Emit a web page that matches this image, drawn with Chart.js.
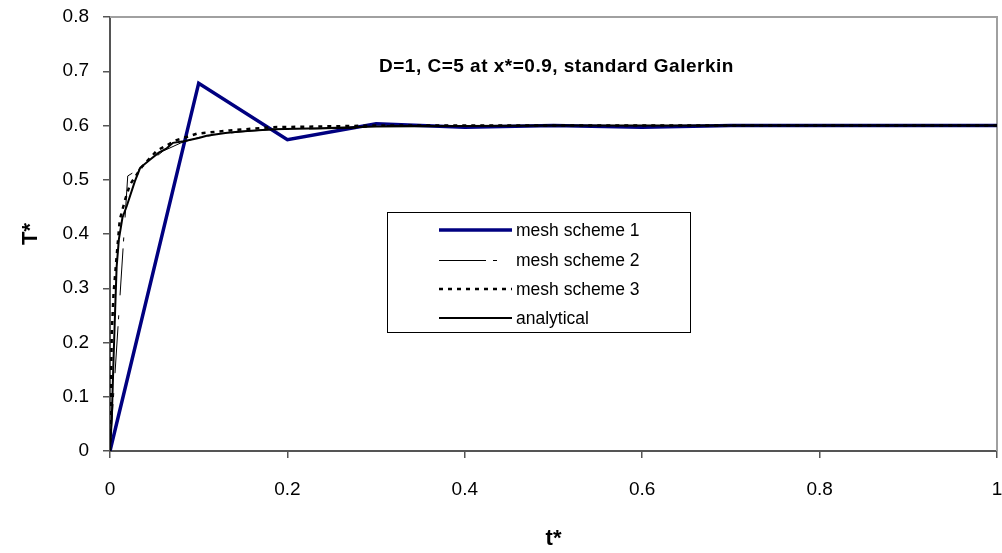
<!DOCTYPE html>
<html>
<head>
<meta charset="utf-8">
<script src="https://cdn.jsdelivr.net/npm/chart.js@4.4.1/dist/chart.umd.min.js"></script>
<style>
  html, body { margin: 0; padding: 0; background: #fff; }
  #wrap { width: 1002px; height: 553px; }
</style>
</head>
<body>
<div id="wrap"><canvas id="c" width="1002" height="553"></canvas></div>
<script>
// --- DATA: T* at x*=0.9 against t* for each run ---
const mesh1T = [0, 0.1, 0.2, 0.3, 0.4, 0.5, 0.6, 0.7, 0.8, 0.9, 1.0];
const mesh1  = [0, 0.678, 0.574, 0.603, 0.597, 0.600, 0.597, 0.600, 0.600, 0.600, 0.600];

const mesh2T = [0, 0.02, 0.04, 0.06, 0.08, 0.10, 0.12, 0.14, 0.16, 0.18, 0.20, 0.24, 0.28, 0.30, 0.40, 0.50, 0.60, 0.70, 0.80, 0.90, 1.0];
const mesh2  = [0, 0.507, 0.527, 0.553, 0.568, 0.578, 0.583, 0.587, 0.590, 0.592, 0.593, 0.594, 0.595, 0.600, 0.600, 0.600, 0.600, 0.600, 0.600, 0.600, 0.600];

const mesh3T = [0, 0.002, 0.004, 0.0075, 0.011, 0.017, 0.0225, 0.036, 0.053, 0.075, 0.098, 0.135, 0.184, 0.23, 0.3, 0.4, 0.5, 0.6, 0.7, 0.8, 0.9, 1.0];
const mesh3  = [0, 0.217, 0.290, 0.359, 0.426, 0.463, 0.491, 0.524, 0.554, 0.573, 0.585, 0.591, 0.597, 0.598, 0.600, 0.600, 0.600, 0.600, 0.600, 0.600, 0.600, 0.600];

const exactT = [0, 0.002, 0.004, 0.006, 0.0075, 0.01, 0.014, 0.019, 0.028, 0.034, 0.045, 0.055, 0.064, 0.071, 0.083, 0.1, 0.109, 0.13, 0.147, 0.184, 0.237, 0.3, 0.4, 0.5, 0.6, 0.7, 0.8, 0.9, 1.0];
const exact  = [0, 0.06, 0.17, 0.27, 0.340, 0.390, 0.430, 0.452, 0.497, 0.522, 0.537, 0.550, 0.558, 0.568, 0.571, 0.577, 0.581, 0.586, 0.589, 0.593, 0.595, 0.598, 0.599, 0.600, 0.600, 0.600, 0.600, 0.600, 0.600];

const seriesNames = ['mesh scheme 1', 'mesh scheme 2', 'mesh scheme 3', 'analytical'];

const xTickValues = [0, 0.2, 0.4, 0.6, 0.8, 1];
const xTickLabels = ['0', '0.2', '0.4', '0.6', '0.8', '1'];
const yTickValues = [0, 0.1, 0.2, 0.3, 0.4, 0.5, 0.6, 0.7, 0.8];
const yTickLabels = ['0', '0.1', '0.2', '0.3', '0.4', '0.5', '0.6', '0.7', '0.8'];

const noteText = 'D=1, C=5 at x*=0.9, standard Galerkin';

const FONT = '"Liberation Sans", Arial, sans-serif';

function pts(ts, vs) { return ts.map((t, i) => ({ x: t, y: vs[i] })); }

// frame: grey box on top/right, note text and boxed legend
const extras = {
    id: 'extras',
    beforeDatasetsDraw(chart) {
        const { ctx, chartArea: a } = chart;
        ctx.save();
        ctx.strokeStyle = '#a0a0a0';
        ctx.lineWidth = 2;
        ctx.beginPath();
        ctx.moveTo(a.left, a.top); ctx.lineTo(a.right, a.top); ctx.lineTo(a.right, a.bottom);
        ctx.stroke();
        ctx.restore();
    },
    afterDraw(chart) {
        const ctx = chart.ctx;
        ctx.save();
        ctx.fillStyle = '#000';
        ctx.font = 'bold 19px ' + FONT;
        ctx.letterSpacing = '0.5px';
        ctx.textBaseline = 'middle';
        ctx.textAlign = 'left';
        ctx.fillText(noteText, 379, 67);
        ctx.letterSpacing = '0px';

        // legend
        const bx = 387, by = 212, bw = 303, bh = 120;
        ctx.fillStyle = '#fff';
        ctx.fillRect(bx, by, bw, bh);
        ctx.strokeStyle = '#000';
        ctx.lineWidth = 1;
        ctx.strokeRect(bx + 0.5, by + 0.5, bw, bh);
        ctx.font = '17.5px ' + FONT;
        const rowsY = [230, 260, 289, 318];
        chart.data.datasets.forEach((ds, i) => {
            const y = rowsY[i] + (ds.borderWidth % 2 === 1 ? 0.5 : 0);
            ctx.save();
            ctx.strokeStyle = ds.borderColor;
            ctx.lineWidth = ds.borderWidth;
            ctx.setLineDash(ds.borderDash || []);
            ctx.beginPath();
            ctx.moveTo(439, y); ctx.lineTo(512, y);
            ctx.stroke();
            ctx.restore();
            ctx.fillStyle = '#000';
            ctx.fillText(ds.label, 516, rowsY[i] + 1);
        });
        ctx.restore();
    }
};

const axisColor = '#555';

new Chart(document.getElementById('c'), {
    type: 'line',
    data: {
        datasets: [
            { label: seriesNames[0], data: pts(mesh1T, mesh1), borderColor: '#000080', borderWidth: 3.5, order: 4 },
            { label: seriesNames[1], data: pts(mesh2T, mesh2), borderColor: '#000', borderWidth: 1, borderDash: [47, 7, 4, 20], order: 3 },
            { label: seriesNames[2], data: pts(mesh3T, mesh3), borderColor: '#000', borderWidth: 2.5, borderDash: [4, 5], order: 1 },
            { label: seriesNames[3], data: pts(exactT, exact), borderColor: '#000', borderWidth: 2, order: 2 }
        ]
    },
    options: {
        responsive: false,
        devicePixelRatio: 1,
        animation: false,
        events: [],
        elements: { point: { radius: 0 }, line: { tension: 0, fill: false } },
        layout: { padding: { top: 17, right: 5, left: 0, bottom: 0 } },
        plugins: { legend: { display: false }, tooltip: { enabled: false } },
        scales: {
            x: {
                type: 'linear', min: 0, max: 1,
                afterBuildTicks: s => { s.ticks = xTickValues.map(v => ({ value: v })); },
                afterFit: s => { s.height = 102; s.paddingLeft = 0; s.paddingRight = 0; },
                grid: { drawOnChartArea: false, drawTicks: true, tickLength: 7, color: axisColor, lineWidth: 1.5 },
                border: { display: true, color: axisColor, width: 2 },
                ticks: {
                    callback: (v, i) => xTickLabels[i],
                    color: '#000', padding: 20, maxRotation: 0,
                    font: { family: FONT, size: 19 }
                },
                title: {
                    display: true, text: 't*', color: '#000',
                    font: { family: FONT, size: 22, weight: 'bold' },
                    padding: { top: 0, bottom: 1 }
                }
            },
            y: {
                type: 'linear', min: 0, max: 0.8,
                afterBuildTicks: s => { s.ticks = yTickValues.map(v => ({ value: v })); },
                afterFit: s => { s.width = 110; s.paddingTop = 0; s.paddingBottom = 0; },
                grid: { drawOnChartArea: false, drawTicks: true, tickLength: 7, color: axisColor, lineWidth: 1.5 },
                border: { display: true, color: axisColor, width: 2 },
                ticks: {
                    callback: (v, i) => yTickLabels[i],
                    color: '#000', padding: 14,
                    font: { family: FONT, size: 19 }
                },
                title: {
                    display: true, text: 'T*', color: '#000',
                    font: { family: FONT, size: 22, weight: 'bold' },
                    padding: { top: 18, bottom: 0 }
                }
            }
        }
    },
    plugins: [extras]
});
</script>
</body>
</html>
